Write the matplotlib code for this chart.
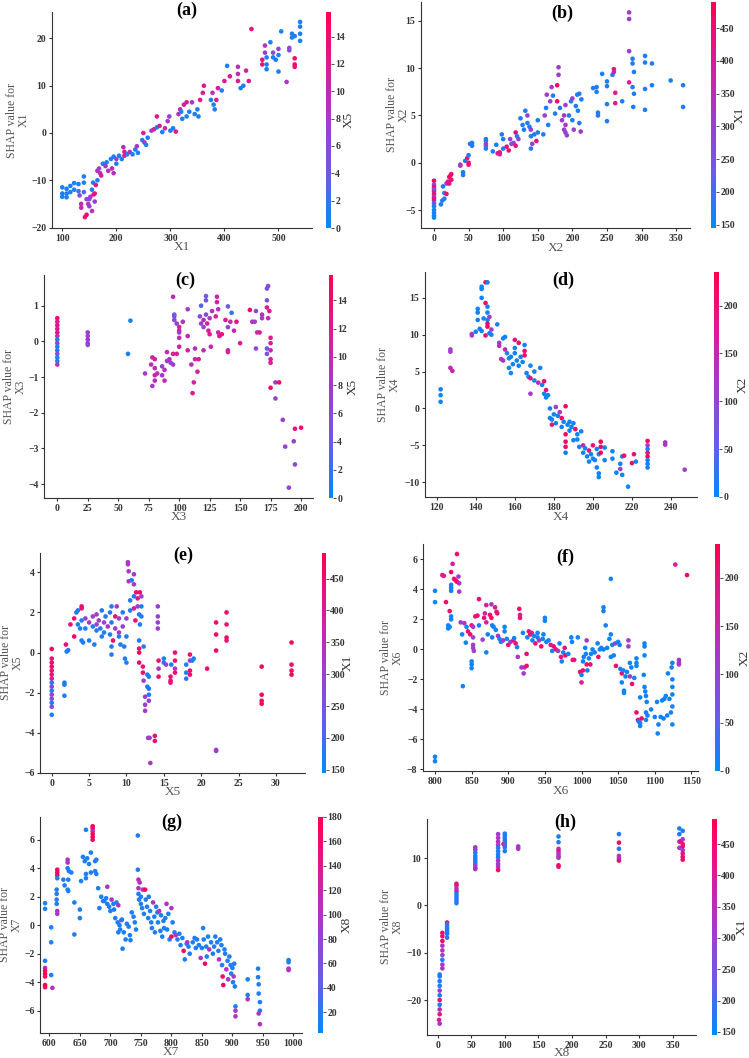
import numpy as np
import matplotlib
matplotlib.use('Agg')
import matplotlib.pyplot as plt
from matplotlib.colors import LinearSegmentedColormap

plt.rcParams['font.family'] = ['Liberation Serif', 'DejaVu Serif']

# Datos: (valor de la variable, valor SHAP, variable de color)
pts_a = [(100, -11.5, 1), (100, -12.8, 1), (100, -13.5, 1), (108, -11.8, 1), (108, -12.8, 1), (108, -13.6, 1),
         (115, -11.2, 1), (115, -12.5, 1), (122, -10.6, 1), (122, -12, 1), (130, -10.8, 1), (130, -12.3, 2),
         (132, -13.2, 6), (135, -15, 10), (135, -15.8, 10), (140, -9.2, 1), (140, -10.5, 1), (140, -12.5, 3),
         (142, -17.8, 14), (145, -17.3, 14), (145, -14, 7), (148, -15, 9), (150, -15.5, 7), (150, -14, 6),
         (152, -13.5, 8), (155, -16.5, 9), (155, -12, 1), (158, -13, 12), (160, -12.8, 13), (160, -14.5, 7),
         (157, -10.5, 1), (162, -11, 13), (165, -10, 1), (165, -8, 9), (168, -7.5, 7), (170, -8.5, 10),
         (172, -9, 11), (175, -6.5, 1), (180, -7, 8), (182, -6.2, 1), (185, -8, 9), (190, -5.5, 1),
         (192, -7.5, 10), (195, -5, 1), (195, -8.5, 9), (200, -5.5, 7), (200, -6.5, 1), (205, -4.8, 1),
         (210, -5.5, 1), (213, -3, 10), (215, -4, 12), (215, -4.8, 11), (220, -4.5, 1), (225, -4, 9),
         (230, -4.5, 1), (235, -3.5, 1), (238, -2.8, 8), (240, -4.2, 1), (248, -1.5, 1), (250, 0, 11),
         (252, -2, 9), (255, -2.5, 1), (258, -1, 1), (265, 0.5, 9), (270, 0.8, 11), (275, 3.5, 12),
         (275, 1.2, 1), (280, 1.5, 12), (285, 0.2, 1), (290, 1, 10), (295, 2.5, 8), (298, 3.5, 7),
         (300, 0.5, 1), (305, 1, 1), (310, 0.3, 12), (315, 4, 9), (318, 5, 10), (320, 4.5, 1), (322, 3, 1),
         (325, 6, 11), (330, 6.5, 12), (330, 3.5, 1), (335, 4.5, 1), (340, 6.5, 8), (345, 4, 1), (350, 5, 1),
         (352, 3.5, 1), (355, 7, 12), (360, 8.5, 12), (362, 10, 12), (375, 7, 1), (378, 8.5, 9), (380, 6, 1),
         (382, 5, 1), (385, 7, 12), (388, 9.5, 12), (395, 9, 1), (400, 11, 12), (405, 14.2, 1), (410, 12, 12),
         (425, 14, 9), (425, 12.5, 10), (425, 11, 12), (430, 9.5, 1), (435, 10, 1), (440, 13.2, 11),
         (445, 11, 12), (450, 22, 13), (470, 15.5, 13), (470, 14.5, 13), (475, 18.5, 9), (475, 17, 8),
         (478, 16, 1), (478, 14.5, 1), (478, 13.5, 1), (485, 19.2, 1), (490, 17, 6), (490, 16, 1),
         (495, 15.5, 1), (500, 17.8, 7), (500, 16.5, 1), (500, 13, 1), (505, 21.5, 1), (515, 10.8, 8),
         (520, 18, 6), (520, 17.5, 6), (525, 20.2, 1), (525, 21, 1), (530, 20.5, 1), (530, 15.8, 14),
         (530, 14.5, 14), (530, 14, 14), (540, 23.5, 1), (540, 22.5, 1), (540, 21, 1), (540, 19.5, 1)]

pts_b = [(0, -1.9, 480), (0, -2.3, 300), (0, -2.6, 470), (0, -3, 460), (0, -3.3, 450), (0, -3.6, 300),
         (0, -4, 180), (0, -4.3, 280), (0, -4.6, 170), (0, -5, 160), (0, -5.3, 160), (0, -5.6, 160),
         (0, -5.8, 160), (0, -2.8, 300), (0, -3.8, 440), (10, -4.4, 170), (12, -4, 170), (13, -2.5, 170),
         (15, -3.2, 170), (15, -3.8, 170), (18, -2.2, 300), (18, -3.3, 450), (20, -2, 420), (22, -1.5, 460),
         (24, -1.3, 460), (25, -1.8, 450), (25, -1.2, 460), (22, -2.2, 440), (38, -0.3, 420), (38, -0.2, 300),
         (42, -1, 170), (42, -1.3, 170), (45, 0.2, 170), (48, 0.5, 430), (50, 0, 450), (50, -0.2, 440),
         (50, 0.8, 170), (52, 2, 170), (55, 1.8, 170), (55, 2.1, 170), (75, 2.5, 170), (75, 1.8, 300),
         (75, 1.5, 170), (75, 2.3, 170), (75, 2, 300), (85, 1.2, 170), (90, 1.9, 170), (92, 1, 420),
         (95, 1.1, 430), (98, 3, 170), (100, 2.5, 170), (100, 1.5, 170), (95, 0.9, 400), (105, 1.7, 430),
         (108, 1.3, 440), (110, 2.5, 300), (112, 2, 260), (115, 2.1, 300), (118, 3.2, 460), (118, 1.8, 440),
         (120, 2.8, 170), (122, 2.5, 300), (125, 4.7, 170), (128, 4, 170), (130, 3.5, 170), (132, 5.5, 170),
         (135, 4.2, 170), (138, 3.8, 170), (140, 1.5, 170), (140, 2.8, 170), (142, 2, 300), (145, 3, 170),
         (148, 2.3, 430), (150, 4.5, 170), (150, 3.2, 170), (135, 5, 300), (140, 3.5, 300), (158, 3, 170),
         (160, 5, 300), (162, 5.8, 170), (163, 7.2, 330), (165, 4, 170), (168, 6.5, 300), (170, 8, 320),
         (172, 7.1, 170), (175, 5.2, 170), (178, 8.2, 460), (178, 6.5, 450), (180, 10.1, 310), (180, 9.3, 310),
         (182, 5.8, 170), (185, 4.5, 300), (188, 3.5, 300), (188, 5, 330), (190, 6.1, 300), (190, 4, 330),
         (190, 3.2, 300), (192, 2.9, 280), (195, 5, 170), (198, 6.5, 170), (200, 4.5, 170), (200, 6.8, 300),
         (202, 3.5, 300), (205, 6, 170), (207, 7.2, 170), (208, 5.5, 170), (210, 7.3, 170), (210, 4.2, 170),
         (212, 3.3, 320), (213, 6.7, 170), (230, 7.9, 170), (235, 8, 170), (235, 7.5, 170), (237, 5.3, 170),
         (237, 5, 170), (243, 9.4, 170), (250, 8.6, 170), (250, 8.1, 170), (250, 6.2, 170), (250, 4.4, 170),
         (258, 9.3, 170), (260, 9.9, 430), (260, 9.6, 360), (262, 7.4, 410), (262, 6.3, 400), (272, 6.5, 170),
         (282, 15.9, 320), (282, 15.2, 320), (282, 11.8, 320), (282, 8.5, 400), (287, 11, 170), (287, 10.5, 170),
         (287, 8, 170), (289, 9.6, 170), (289, 7.3, 170), (288, 5.9, 170), (305, 11.3, 170), (305, 10.6, 170),
         (305, 7.8, 170), (305, 5.6, 170), (315, 10.5, 170), (315, 8.2, 170), (342, 8.7, 170), (360, 8.2, 170),
         (360, 5.9, 170)]

pts_c = [(0, 0.65, 14), (0, 0.55, 12), (0, 0.45, 13), (0, 0.35, 12), (0, 0.25, 13), (0, 0.15, 10),
         (0, 0.05, 1), (0, -0.05, 8), (0, -0.15, 1), (0, -0.25, 1), (0, -0.35, 6), (0, -0.45, 1),
         (0, -0.55, 1), (0, -0.65, 9), (25, 0.25, 7), (25, 0.15, 7), (25, 0.05, 8), (25, -0.05, 7),
         (25, -0.1, 6), (60, 0.58, 1), (58, -0.35, 1), (72, -0.9, 8), (77, -0.65, 9), (78, -1.25, 8),
         (78, -0.45, 11), (80, -0.5, 11), (80, -0.75, 10), (80, -0.95, 11), (80, -1.1, 10), (82, -0.9, 9),
         (86, -0.7, 7), (86, -0.95, 8), (88, -1.1, 10), (88, -0.8, 9), (90, -0.3, 10), (90, -0.55, 8),
         (92, -0.5, 9), (93, -0.6, 7), (95, -0.35, 12), (95, -0.65, 8), (96, 0.7, 5), (96, 0.6, 6),
         (96, 0.75, 4), (98, 0.5, 7), (95, 1.25, 10), (100, 0.4, 11), (100, 0.3, 12), (100, 0.1, 10),
         (100, -0.15, 11), (98, -0.35, 12), (100, 0.25, 8), (103, 0.55, 9), (107, 0.9, 8), (107, 0.15, 10),
         (107, -0.25, 11), (110, -0.65, 9), (111, -1.45, 12), (112, -1.15, 11), (113, -0.5, 10),
         (113, -0.2, 9), (115, -0.85, 11), (116, -0.5, 12), (117, 0.7, 6), (118, 0.5, 7), (118, 1.0, 3),
         (120, 0.4, 6), (120, -0.25, 10), (120, 0.6, 10), (122, 1.27, 4), (122, 1.15, 5), (122, 0.75, 6),
         (123, 0.5, 11), (124, 0.3, 12), (125, 0.2, 12), (125, 0.65, 8), (126, -0.15, 10), (127, 0.85, 9),
         (130, 0.7, 11), (131, 1.25, 10), (131, 1.1, 11), (132, 0.9, 9), (132, 0.25, 10), (133, 0.15, 12),
         (135, 0.2, 13), (138, 0.6, 12), (140, 0.98, 4), (140, 0.4, 7), (140, -0.25, 10), (140, -0.3, 11),
         (142, 0.55, 10), (143, 0.8, 2), (145, 0.3, 10), (147, 0.55, 13), (150, -0.05, 12), (158, 0.88, 14),
         (160, 0.55, 10), (162, 0.55, 7), (163, 0.85, 6), (163, -0.2, 6), (164, 0.25, 10), (166, 0.25, 11),
         (168, 0.65, 8), (168, 0.75, 9), (172, 1.48, 5), (173, 1.55, 6), (172, 1.15, 5), (172, 0.95, 12),
         (172, -0.35, 5), (172, -0.2, 4), (173, 0.65, 10), (174, 0.85, 12), (175, 0.1, 12), (175, -0.05, 11),
         (175, -0.25, 10), (175, -0.5, 11), (175, -0.6, 12), (175, -1.3, 14), (179, -1.15, 8), (182, -1.15, 14),
         (179, -1.6, 7), (185, -2.2, 7), (187, -2.95, 7), (194, -2.8, 7), (195, -3.45, 6), (190, -4.1, 7),
         (195, -2.45, 13), (200, -2.42, 14)]

pts_d = [(122, 2.6, 10), (122, 1.8, 10), (122, 0.9, 10), (127, 8, 110), (127, 7.7, 120), (127, 5.5, 150),
         (128, 5.1, 160), (138, 10.1, 110), (138, 9.9, 120), (140, 10.4, 10), (141, 13.5, 10), (141, 13, 10),
         (141, 12, 10), (142, 10.8, 10), (143, 10.5, 10), (143, 16.5, 10), (143, 16.2, 10), (143, 15, 10),
         (144, 12.2, 10), (145, 17.1, 220), (145, 14.3, 210), (145, 9.9, 200), (146, 17.1, 10), (146, 12, 10),
         (146, 11.5, 200), (146, 11.1, 220), (146, 13.8, 10), (146, 13, 10), (147, 12.4, 110), (147, 10.2, 10),
         (148, 10.7, 110), (148, 10, 10), (151, 11.4, 10), (152, 8.9, 120), (152, 8.5, 130), (153, 6.7, 120),
         (154, 6.5, 130), (154, 9.5, 10), (155, 9.7, 10), (155, 8, 150), (156, 7.5, 10), (157, 6.8, 10),
         (157, 5.5, 10), (158, 4.8, 10), (158, 7, 10), (159, 6, 10), (160, 9.3, 200), (160, 8.2, 10),
         (160, 7.5, 10), (161, 6.5, 10), (162, 5.8, 10), (162, 8.9, 210), (163, 7, 10), (164, 6.3, 10),
         (165, 7.8, 210), (165, 7.2, 220), (165, 8.6, 10), (166, 4.8, 10), (167, 4.3, 10), (168, 5.8, 10),
         (168, 2, 120), (168, 4.1, 200), (170, 5, 10), (170, 3.8, 10), (172, 3.5, 150), (173, 5.5, 10),
         (174, 3.2, 10), (175, 3.7, 210), (175, 2, 10), (176, 1.5, 10), (177, 1.8, 10), (176, 2.5, 200),
         (178, 0, 10), (178, -1.3, 10), (179, -2.2, 210), (179, -1.5, 10), (180, -0.8, 10), (181, -2, 10),
         (181, 0.2, 110), (182, -1, 10), (183, -0.5, 120), (184, -1.3, 220), (184, -2.5, 10), (185, -1.8, 10),
         (186, 0.3, 220), (186, -3.5, 220), (186, -4.5, 220), (186, -5.2, 210), (186, -6, 10), (187, -2.2, 10),
         (188, -3, 10), (188, -1.8, 10), (189, -2.5, 10), (190, -4.3, 10), (190, -2, 10), (191, -2.8, 210),
         (192, -4.2, 10), (192, -3.5, 10), (193, -5.2, 10), (194, -3.1, 10), (195, -6, 10), (195, -5, 160),
         (196, -5.4, 10), (197, -6.5, 10), (198, -7.2, 10), (198, -5.7, 200), (199, -6.2, 10), (200, -6.8, 10),
         (200, -5, 210), (201, -7, 10), (202, -8, 10), (202, -5.5, 10), (203, -6.2, 10), (203, -8.8, 10),
         (203, -9.3, 10), (204, -4.5, 220), (204, -5.2, 220), (204, -6, 220), (206, -7, 10), (206, -5.3, 10),
         (210, -5.8, 10), (210, -6.8, 10), (212, -8.7, 10), (214, -7.5, 10), (214, -8.2, 110), (215, -9, 10),
         (215, -6.5, 10), (216, -6.4, 210), (218, -10.6, 10), (220, -7.4, 220), (221, -6.2, 210),
         (222, -7.2, 10), (228, -4.4, 220), (228, -5, 110), (228, -5.5, 10), (228, -6, 200), (228, -6.5, 220),
         (228, -7, 10), (228, -7.5, 10), (228, -8, 10), (237, -4.6, 120), (237, -4.9, 130), (247, -8.3, 110)]

pts_e = [(0, 0.18, 470), (0, -0.3, 440), (0, -0.5, 450), (0, -0.7, 460), (0, -0.9, 430), (0, -1.1, 440),
         (0, -1.3, 400), (0, -1.5, 170), (0, -1.7, 300), (0, -1.9, 170), (0, -2.1, 300), (0, -2.3, 280),
         (0, -2.5, 170), (0, -2.7, 260), (0, -3.1, 170), (1.7, -1.5, 170), (1.7, -1.6, 170), (1.7, -2.15, 170),
         (2, 0.05, 170), (2.2, 0.12, 170), (1.9, 0.4, 460), (2.5, 1.4, 450), (3, 0.8, 460), (3, 1.7, 450),
         (3.3, 2.0, 170), (3.5, 2.1, 170), (3.5, 1.4, 170), (3.8, 1.2, 170), (4, 2.3, 460), (4, 2.2, 450),
         (4, 1.6, 170), (4, 0.6, 170), (4.2, 0.5, 170), (4.5, 1.7, 300), (4.5, 1.2, 170), (5, 1.5, 320),
         (5, 0.6, 170), (5.5, 1.8, 300), (5.5, 1.3, 170), (5.7, 0.4, 170), (6, 1.9, 320), (6, 1.4, 300),
         (6, 1.1, 170), (6.3, 1.6, 300), (6.5, 1.2, 170), (6.7, 2.1, 170), (6.7, 0.8, 170), (7, 1.5, 300),
         (7, 1.0, 170), (7.2, 1.8, 170), (7.5, 1.3, 330), (7.8, 2.0, 170), (7.8, 0.9, 170), (8, 2.3, 170),
         (8, 1.5, 170), (8, 0.3, 170), (8, -0.1, 170), (8.2, 0.6, 450), (8.5, 1.8, 440), (8.5, 1.2, 300),
         (8.7, 2.3, 320), (9, 1.7, 300), (9, 1.0, 320), (9, 0.8, 170), (9.2, 0.4, 170), (9.5, 2.0, 170),
         (9.5, 1.3, 300), (9.7, 0.3, 170), (9.8, -0.3, 170), (10, -0.5, 170), (10, 0.8, 170), (10, 1.7, 320),
         (10.2, 4.5, 320), (10.2, 4.4, 330), (10.3, 4.05, 320), (10.3, 3.55, 330), (10.5, 2.6, 170),
         (10.5, 2.1, 170), (10.7, 3.6, 170), (11, 3.9, 320), (11, 3.4, 320), (11, 2.8, 170), (11, 2.2, 400),
         (11.2, 1.6, 450), (11.3, 3.0, 460), (11.5, 2.7, 440), (11.5, 2.3, 320), (11.7, 1.9, 170),
         (11.8, 1.4, 170), (11.8, 3.0, 450), (11.7, 0.6, 170), (12, 2.8, 300), (12, 2.3, 170), (12, 1.8, 170),
         (11.7, 0.0, 460), (11.7, -0.5, 450), (11.7, 0.2, 440), (12.2, -0.7, 430), (12.2, -1.0, 450),
         (12.3, 0.3, 170), (12.3, -1.4, 310), (12.5, -2.2, 320), (12.5, -2.6, 310), (12.5, -2.9, 320),
         (12.8, -1.1, 170), (12.8, -1.7, 170), (13, -2.1, 170), (13, -2.4, 290), (13, -1.2, 170),
         (13, -1.8, 170), (13.1, -4.25, 320), (12.9, -4.25, 310), (13.2, -5.5, 330), (13.8, -4.15, 450),
         (13.8, -4.4, 450), (14.2, 2.3, 300), (14.2, 1.8, 300), (14.2, 1.5, 310), (14.2, 1.2, 300),
         (14.3, -0.4, 440), (14.3, -0.8, 330), (14.3, -1.2, 440), (15, -0.3, 170), (15, -0.5, 170),
         (15.3, -0.6, 300), (15.9, -1.2, 450), (15.9, -1.4, 450), (15.9, -1.5, 440), (16, -0.6, 170),
         (16.5, 0.0, 450), (16.5, -0.4, 440), (16.5, -0.8, 330), (16.5, -1.0, 450), (18, -1.0, 170),
         (18, -1.3, 170), (18, -0.6, 170), (18.5, -0.1, 460), (18.5, -0.4, 320), (18.5, -0.9, 440),
         (18.5, -1.1, 450), (18.8, -0.4, 170), (19, -0.3, 170), (20.8, -0.8, 460), (22, 1.5, 460),
         (22, 0.9, 460), (22, 0.1, 460), (22, -4.85, 320), (22, -4.9, 310), (23.4, 2.0, 460), (23.4, 1.4, 450),
         (23.4, 0.75, 460), (23.4, 0.6, 450), (28.1, -0.7, 470), (28.1, -2.1, 470), (28.1, -2.4, 460),
         (28.1, -2.55, 470), (32.1, 0.5, 470), (32.1, -0.6, 470), (32.1, -0.9, 460), (32.1, -1.1, 470)]

pts_f = [(800, 3.9, 10), (800, 3.15, 10), (800, -7.15, 10), (800, -7.45, 10), (810, 4.95, 170), (812, 4.9, 180),
         (815, 3.15, 210), (820, 2.55, 210), (818, 1.4, 10), (818, 1.6, 10), (820, 1.5, 10), (822, 5.15, 210),
         (822, 4.3, 10), (822, 4.1, 10), (822, 3.9, 10), (822, 2.2, 10), (822, 2.0, 10), (824, 5.7, 170),
         (826, 4.7, 190), (828, 4.6, 210), (830, 6.35, 210), (830, 4.5, 210), (832, 4.85, 120), (833, 4.4, 130),
         (833, 3.85, 120), (835, 1.8, 110), (837, 1.0, 10), (838, -2.45, 10), (840, 1.75, 120), (842, 0.45, 10),
         (843, 1.5, 10), (845, 1.2, 200), (848, 1.0, 210), (850, 1.6, 200), (850, -0.8, 10), (850, -1.0, 10),
         (850, -1.25, 10), (852, 1.5, 120), (852, 0.8, 110), (852, 0.3, 120), (852, 0.1, 110), (853, -0.1, 110),
         (855, 2.2, 210), (858, 2.25, 200), (860, 3.35, 210), (860, 1.6, 10), (865, 0.65, 110), (867, 2.1, 200),
         (868, 2.4, 160), (870, 2.95, 170), (870, 1.8, 170), (870, -0.2, 10), (872, 1.0, 10), (875, 2.3, 210),
         (877, 3.0, 120), (877, 2.1, 210), (878, 1.6, 10), (878, 0.8, 10), (880, 1.5, 10), (882, 2.8, 180),
         (883, 1.3, 10), (884, 2.5, 210), (885, 2.4, 200), (886, 0.9, 130), (888, 0.7, 10), (890, 0.5, 10),
         (893, 0.6, 120), (895, 1.5, 10), (895, 1.2, 10), (898, 0.7, 10), (900, 0.3, 200), (903, 0.5, 110),
         (907, 0.6, 200), (908, 0.75, 10), (910, 0.4, 200), (912, 0.15, 10), (913, -0.5, 120), (915, 2.7, 210),
         (916, 2.3, 170), (916, 2.1, 210), (918, -1.2, 120), (920, 1.1, 10), (921, -1.6, 120), (922, -1.2, 130),
         (925, -1.1, 210), (925, -0.3, 210), (926, 0.8, 10), (928, 1.2, 200), (930, 1.0, 210), (932, 1.1, 180),
         (933, 0.6, 10), (935, 0.9, 10), (937, 0.4, 200), (940, 1.1, 10), (940, 0.8, 10), (942, 0.6, 120),
         (945, 0.2, 210), (947, 0.7, 10), (948, 1.0, 10), (950, 2.1, 10), (950, 1.9, 10), (952, 0.5, 10),
         (955, 0.6, 10), (958, 0.3, 200), (960, -0.1, 10), (962, 0.2, 200), (965, 0.0, 210), (968, -0.1, 120),
         (970, 0.4, 10), (972, -0.5, 200), (973, -0.8, 10), (975, -0.2, 10), (977, 0.1, 200), (978, -0.4, 210),
         (982, -0.3, 10), (986, 0.8, 10), (987, 0.5, 10), (988, -0.7, 210), (990, -0.7, 200), (995, 0.8, 10),
         (998, -1.5, 210), (1000, -1.7, 10), (1000, -2.2, 170), (1002, -1.4, 210), (1002, -0.8, 10),
         (1003, -0.5, 10), (1005, 0.1, 10), (1006, -0.3, 10), (1007, 0.6, 120), (1007, -1.0, 210),
         (1008, -1.4, 10), (1010, -0.6, 10), (1012, -1.0, 210), (1013, -0.3, 10), (1015, 0.0, 10),
         (1018, -0.2, 10), (1022, 0.4, 10), (1023, -0.5, 210), (1025, 0.0, 10), (1027, 0.1, 10),
         (1030, 2.8, 10), (1030, 2.55, 10), (1030, 0.0, 10), (1033, 1.6, 10), (1035, 0.1, 10), (1038, 0.7, 10),
         (1040, 4.7, 10), (1040, 1.0, 10), (1040, -0.5, 10), (1042, 0.3, 10), (1044, -0.4, 10),
         (1046, 0.4, 120), (1047, -1.1, 210), (1050, 0.5, 10), (1052, 0.3, 10), (1053, -1.3, 10),
         (1055, -1.6, 210), (1055, -2.2, 10), (1057, -1.4, 10), (1058, -2.75, 10), (1058, -2.9, 10),
         (1060, -1.8, 10), (1062, -1.5, 10), (1064, 0.6, 120), (1064, 0.2, 120), (1066, -0.9, 10),
         (1066, -1.8, 120), (1068, -1.2, 10), (1069, -2.3, 210), (1072, -1.9, 10), (1075, -0.6, 10),
         (1075, -0.9, 10), (1075, -1.1, 10), (1075, -4.2, 210), (1077, -4.7, 210), (1078, -4.8, 10),
         (1080, -3.2, 10), (1080, -4.9, 10), (1080, -5.1, 10), (1082, -4.6, 210), (1085, -1.7, 10),
         (1086, 0.4, 10), (1086, 0.2, 10), (1086, -0.4, 10), (1086, -2.5, 10), (1087, -2.8, 10),
         (1088, -3.1, 10), (1089, -3.5, 10), (1088, -4.2, 10), (1088, -4.7, 10), (1090, -4.4, 10),
         (1095, -4.0, 10), (1100, -4.5, 10), (1103, -3.5, 10), (1104, -5.6, 10), (1105, -5.0, 10),
         (1108, -4.5, 10), (1110, -3.4, 10), (1112, -4.6, 10), (1113, -3.3, 10), (1115, -3.1, 10),
         (1117, -4.4, 10), (1118, -1.6, 10), (1120, -3.3, 10), (1122, -4.2, 10), (1123, -1.2, 10),
         (1124, -0.9, 10), (1124, -2.0, 10), (1124, -2.5, 10), (1124, -3.0, 10), (1124, -3.8, 10),
         (1124, -5.0, 10), (1128, 5.65, 170), (1133, -0.7, 120), (1133, -0.9, 130), (1133, -1.0, 120),
         (1144, 4.95, 210)]

pts_g = [(593, 1.55, 15), (593, 1.15, 15), (593, -2.5, 15), (593, -3.0, 100), (593, -3.2, 170), (593, -3.4, 175),
         (593, -3.6, 170), (593, -4.2, 175), (593, -4.35, 175), (603, -0.15, 15), (603, -1.2, 15),
         (603, -3.5, 15), (605, -4.4, 100), (613, 3.9, 175), (613, 3.7, 170), (613, 3.5, 175), (613, 3.3, 15),
         (612, 2.5, 15), (612, 2.2, 15), (612, 1.8, 15), (612, 1.5, 15), (613, 1.0, 100), (613, 0.8, 95),
         (623, 3.2, 15), (625, 2.8, 15), (630, 4.6, 100), (630, 4.4, 95), (630, 4.0, 15), (632, 3.8, 15),
         (631, 3.2, 15), (631, 2.4, 15), (630, 2.5, 15), (636, 3.7, 15), (641, 1.6, 15), (641, -0.65, 15),
         (650, 1.1, 15), (650, 0.5, 15), (652, 3.1, 15), (655, 4.8, 15), (658, 4.5, 15), (660, 3.6, 15),
         (660, 3.3, 15), (660, 6.7, 15), (662, 4.7, 15), (665, 4.3, 15), (668, 5.1, 15), (668, 3.7, 15),
         (671, 6.95, 175), (671, 6.8, 175), (671, 6.6, 100), (671, 6.4, 175), (671, 6.2, 170), (671, 6.0, 175),
         (675, 4.5, 15), (675, 3.8, 15), (677, 3.6, 15), (677, 4.6, 15), (680, 2.6, 15), (682, 1.2, 15),
         (685, 2.0, 15), (688, 1.7, 15), (690, 1.7, 15), (693, 1.9, 15), (695, 2.7, 100), (695, 1.5, 15),
         (698, 1.3, 15), (700, 1.0, 15), (702, 1.8, 100), (705, 1.5, 15), (706, 1.1, 15), (708, 0.5, 15),
         (710, 1.6, 15), (712, 0.2, 15), (713, -0.5, 15), (713, 1.4, 100), (715, 0.0, 15), (716, -0.3, 15),
         (718, 0.35, 100), (719, 0.4, 15), (720, -1.65, 15), (722, -0.5, 15), (725, -1.0, 15), (727, 0.1, 15),
         (730, -0.1, 15), (732, -0.7, 15), (733, -1.05, 15), (735, 0.9, 15), (738, 0.6, 15), (740, 0.2, 15),
         (742, -0.3, 15), (745, 6.3, 15), (745, 3.9, 15), (746, 3.2, 120), (746, 2.6, 100), (746, 2.2, 15),
         (747, 1.8, 15), (748, 3.0, 100), (750, 2.0, 15), (750, 1.5, 15), (752, 1.2, 15), (753, 2.5, 100),
         (755, 0.8, 15), (757, 2.5, 170), (758, 1.8, 15), (760, 1.3, 15), (762, 0.5, 15), (763, 2.0, 15),
         (765, 1.0, 15), (767, 0.2, 15), (768, -0.2, 15), (770, 1.6, 100), (772, 0.6, 15), (773, -0.5, 15),
         (775, 1.3, 15), (777, 0.9, 15), (778, 0.2, 15), (780, 1.0, 100), (782, -0.4, 15), (783, 0.7, 15),
         (785, -0.8, 15), (787, 0.3, 15), (788, -0.2, 15), (790, 0.5, 15), (792, 1.5, 100), (793, -0.3, 15),
         (795, 0.8, 15), (797, -1.0, 15), (800, 1.2, 100), (800, -0.8, 170), (802, 0.2, 15), (805, -0.5, 15),
         (807, -0.7, 100), (810, -1.0, 15), (813, -0.6, 15), (815, -1.4, 15), (818, -0.9, 15), (820, -1.8, 170),
         (822, -2.4, 15), (825, -1.3, 15), (826, -1.2, 100), (828, -1.5, 15), (830, -2.0, 15), (835, -1.2, 15),
         (838, -0.9, 15), (840, -1.6, 15), (842, -1.0, 15), (845, -1.4, 15), (848, -2.3, 100), (850, -1.6, 15),
         (852, -0.2, 15), (853, -1.0, 15), (855, -2.7, 170), (857, -1.5, 15), (858, -2.2, 15), (860, -0.8, 15),
         (862, -1.7, 100), (865, -1.2, 15), (868, -2.0, 15), (870, -1.5, 15), (872, -0.8, 15), (875, -1.2, 15),
         (877, -1.8, 15), (878, -2.4, 100), (880, -1.0, 15), (882, -1.4, 15), (883, -2.8, 15), (884, -3.6, 170),
         (885, -4.2, 175), (887, -1.7, 15), (888, -2.0, 15), (890, -3.1, 100), (892, -2.5, 15), (893, -3.8, 100),
         (895, -2.2, 15), (897, -2.8, 15), (898, -3.4, 15), (900, -3.0, 15), (901, -4.0, 15), (902, -3.6, 100),
         (903, -2.7, 15), (904, -4.3, 15), (905, -5.7, 15), (905, -6.0, 100), (905, -6.4, 100), (925, -3.8, 15),
         (925, -4.9, 15), (925, -5.2, 100), (942, -3.05, 15), (942, -3.65, 15), (943, -4.15, 15),
         (943, -4.8, 15), (945, -5.4, 15), (945, -6.0, 15), (943, -6.2, 100), (945, -6.95, 100),
         (992, -2.45, 15), (992, -2.6, 15), (992, -3.05, 100), (992, -3.15, 100)]

pts_h = [(2, -24.2, 400), (3, -25, 330), (3, -23, 420), (3, -22, 360), (3, -21, 170), (3, -20, 440),
         (3, -19, 170), (3, -18, 300), (3, -17, 170), (3, -16, 170), (3, -15, 170), (3, -14.6, 170),
         (7, -5.8, 460), (7, -6.5, 440), (7, -7.5, 460), (7, -8.5, 330), (7, -9.5, 340), (7, -10.5, 300),
         (7, -11.5, 170), (7, -12.5, 320), (7, -13.3, 330), (14, -3.6, 460), (14, -4, 170), (14, -4.5, 170),
         (14, -5, 170), (14, -5.5, 170), (14, -6, 170), (14, -6.8, 170), (28, 4.6, 450), (28, 4.2, 440),
         (28, 3.6, 330), (28, 3, 420), (28, 2.5, 170), (28, 2, 170), (28, 1.5, 170), (28, 1, 170),
         (28, 0.5, 170), (56, 12.3, 330), (56, 11.8, 320), (56, 11.2, 170), (56, 10.5, 170), (56, 10, 170),
         (56, 9.5, 170), (56, 9, 170), (56, 8.5, 300), (56, 8, 320), (56, 7.7, 330), (90, 15.1, 310),
         (90, 14.3, 330), (90, 13.5, 340), (90, 12.8, 320), (90, 12.2, 170), (90, 11.5, 170), (90, 10.8, 170),
         (90, 10.2, 170), (90, 9.5, 330), (90, 8.8, 320), (90, 8.2, 340), (90, 7.5, 450), (100, 15.2, 170),
         (100, 14.8, 170), (100, 14.3, 170), (100, 13.8, 170), (100, 13.3, 170), (100, 12.8, 170),
         (100, 12.3, 170), (100, 11.5, 170), (98, 13, 330), (120, 12.5, 320), (120, 12, 330), (180, 14.6, 170),
         (180, 13.4, 170), (180, 12, 330), (180, 11.5, 450), (180, 11, 320), (180, 10.5, 330), (180, 10.1, 320),
         (180, 8.5, 460), (180, 8.2, 450), (270, 15.1, 170), (270, 13.3, 460), (270, 12, 170), (270, 10.5, 330),
         (270, 10, 330), (270, 9.5, 450), (360, 16.3, 170), (360, 15.1, 170), (360, 13.5, 320), (360, 12.2, 310),
         (362, 13.6, 450), (365, 15.8, 170), (365, 14, 330), (365, 13, 440), (365, 12.5, 450), (365, 11.7, 330),
         (365, 11, 440), (365, 10.3, 450), (365, 9.7, 460)]

feature = ['X1', 'X2', 'X3', 'X4', 'X5', 'X6', 'X7', 'X8']
color_feature = ['X5', 'X1', 'X5', 'X2', 'X1', 'X2', 'X8', 'X1']
panel_tags = ['(a)', '(b)', '(c)', '(d)', '(e)', '(f)', '(g)', '(h)']
color_range = [(0, 15.8), (145, 490), (0, 15.8), (0, 235), (145, 490), (0, 235), (3, 180), (145, 490)]
cbar_ticks = [[0, 2, 4, 6, 8, 10, 12, 14], [150, 200, 250, 300, 350, 400, 450],
              [0, 2, 4, 6, 8, 10, 12, 14], [0, 50, 100, 150, 200], [150, 200, 250, 300, 350, 400, 450],
              [0, 50, 100, 150, 200], [20, 40, 60, 80, 100, 120, 140, 160, 180],
              [150, 200, 250, 300, 350, 400, 450]]
x_ticks = [[100, 200, 300, 400, 500], [0, 50, 100, 150, 200, 250, 300, 350],
           [0, 25, 50, 75, 100, 125, 150, 175, 200], [120, 140, 160, 180, 200, 220, 240],
           [0, 5, 10, 15, 20, 25, 30], [800, 850, 900, 950, 1000, 1050, 1100, 1150],
           [600, 650, 700, 750, 800, 850, 900, 950, 1000], [0, 50, 100, 150, 200, 250, 300, 350]]
y_ticks = [[-20, -10, 0, 10, 20], [-5, 0, 5, 10, 15], [-4, -3, -2, -1, 0, 1],
           [-10, -5, 0, 5, 10, 15], [-6, -4, -2, 0, 2, 4], [-8, -6, -4, -2, 0, 2, 4, 6],
           [-6, -4, -2, 0, 2, 4, 6], [-20, -10, 0, 10]]
all_pts = [pts_a, pts_b, pts_c, pts_d, pts_e, pts_f, pts_g, pts_h]

# Limites de los ejes y cajas en pixeles (izq, arriba, der, abajo)
xlims = [(81, 562), (-18.8, 370), (-10.9, 209.8), (114, 253.3), (-1.57, 33.9), (783.6, 1159), (584.7, 1014), (-15.9, 384.8)]
ylims = [(-20.1, 25.6), (-6.9, 17), (-4.39, 1.86), (-12, 18.5), (-6.0, 4.96), (-8.1, 7.02), (-7.57, 7.6), (-27.4, 18.3)]
ax_px = [(52, 12, 312, 228), (421, 2, 690, 228), (44, 275, 313, 498), (425, 272, 697, 497),
         (40, 553, 305, 773), (423, 544, 698, 771), (40, 817, 302, 1033), (427, 819, 696, 1035)]
cb_px = [(326, 12, 331, 228), (711, 2, 716, 228), (329, 275, 333, 498), (714, 272, 719, 497),
         (322, 553, 326, 773), (715, 544, 720, 771), (318, 817, 323, 1033), (712, 819, 717, 1035)]
tag_px = [(187, 10), (562, 13), (185, 280), (563, 280), (183, 555), (565, 557), (172, 822), (565, 822)]
ylab_px = [18, 398, 15, 389, 12, 392, 11, 392]
xlab_off = [19, 20, 19, 20, 19, 20, 19, 18]
cblab_px = [349, 740, 353, 743, 348, 745, 347, 742]

W, H = 749, 1058
fig = plt.figure(figsize=(W / 100, H / 100), dpi=100)

# Mapa de color tipo SHAP (azul -> morado -> rojo)
cmap = LinearSegmentedColormap.from_list(
    'shap_rb', ['#008bfb', '#6c5ae8', '#a43acb', '#dd1a94', '#ff0051'])

def rect(box):
    l, t, r, b = box
    return [l / W, 1 - b / H, (r - l) / W, (b - t) / H]

for i in range(8):
    data = np.array(all_pts[i], dtype=float)
    l, t, r, b = ax_px[i]
    ax = fig.add_axes(rect(ax_px[i]))
    cax = fig.add_axes(rect(cb_px[i]))
    sc = ax.scatter(data[:, 0], data[:, 1], c=data[:, 2], cmap=cmap,
                    vmin=color_range[i][0], vmax=color_range[i][1],
                    s=11, linewidths=0)
    ax.set_xlim(xlims[i])
    ax.set_ylim(ylims[i])
    ax.set_xticks(x_ticks[i])
    ax.set_yticks(y_ticks[i])
    for s in ['top', 'right']:
        ax.spines[s].set_visible(False)
    for s in ['left', 'bottom']:
        ax.spines[s].set_color('#333333')
        ax.spines[s].set_linewidth(0.8)
    ax.tick_params(labelsize=7, length=2.5, width=0.8, pad=1.5,
                   color='#333333', labelcolor='#333333')
    for lab in ax.get_xticklabels() + ax.get_yticklabels():
        lab.set_fontweight('bold')
    ax.set_xlabel(feature[i], fontsize=9.5, color='#555555', va='center')
    ax.xaxis.set_label_coords(0.5, -xlab_off[i] / (b - t))
    ax.set_ylabel('SHAP value for\n' + feature[i], fontsize=8.5, color='#555555',
                  va='center', linespacing=1.0)
    ax.yaxis.set_label_coords((ylab_px[i] - l) / (r - l), 0.5)

    cb = fig.colorbar(sc, cax=cax, ticks=cbar_ticks[i])
    cb.outline.set_visible(False)
    cb.ax.tick_params(labelsize=7, length=2, width=0.6, pad=1,
                      color='#333333', labelcolor='#333333')
    for lab in cb.ax.get_yticklabels():
        lab.set_fontweight('bold')
    cl, ct, cr, cbb = cb_px[i]
    cb.set_label(color_feature[i], fontsize=9.5, color='#333333', va='center')
    cb.ax.yaxis.set_label_coords((cblab_px[i] - cl) / (cr - cl), 0.5)

    tx, ty = tag_px[i]
    fig.text(tx / W, 1 - ty / H, panel_tags[i], ha='center', va='center',
             fontsize=13, fontweight='bold')

fig.savefig('out.png', dpi=100)
